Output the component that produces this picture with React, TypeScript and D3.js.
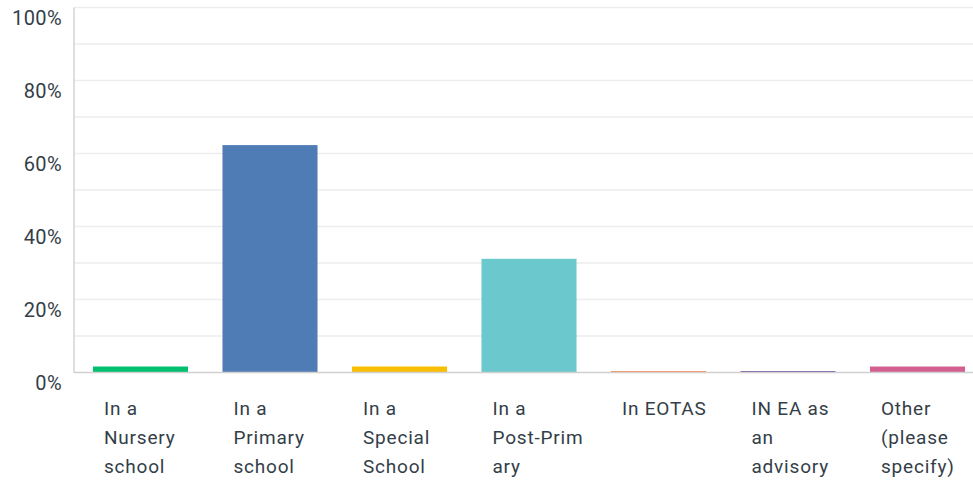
import React, { useEffect, useRef } from "react";
import * as d3 from "d3";

const categories = [
  "In a Nursery school",
  "In a Primary school",
  "In a Special School",
  "In a Post-Primary",
  "In EOTAS",
  "IN EA as an advisory",
  "Other (please specify)",
];
// wrapped tick labels, as shown under each bar
const tickLines = [
  ["In a", "Nursery", "school"],
  ["In a", "Primary", "school"],
  ["In a", "Special", "School"],
  ["In a", "Post-Prim", "ary"],
  ["In EOTAS"],
  ["IN EA as", "an", "advisory"],
  ["Other", "(please", "specify)"],
];
const percents = [1.64, 62.3, 1.64, 31.15, 0, 0, 1.64];
const colors = ["#00bf6f", "#507cb6", "#f9be00", "#6bc8cd", "#ff8b4f", "#7d5ba6", "#d25f90"];
const yTicks = [0, 20, 40, 60, 80, 100];
const gridTicks = [10, 20, 30, 40, 50, 60, 70, 80, 90, 100];

const width = 973;
const height = 483;
const textColor = "#333e48";

function App() {
  const svgRef = useRef(null);

  useEffect(() => {
    const svg = d3.select(svgRef.current);
    svg.selectAll("*").remove();

    const axisX = 74;
    const y = d3.scaleLinear().domain([0, 100]).range([372.5, 7.5]);
    const x = d3
      .scaleBand()
      .domain(categories)
      .range([75.75, 982.25])
      .paddingInner(0.266)
      .paddingOuter(0.133);

    // gridlines
    svg
      .append("g")
      .selectAll("line")
      .data(gridTicks)
      .join("line")
      .attr("x1", axisX)
      .attr("x2", width)
      .attr("y1", (d) => y(d))
      .attr("y2", (d) => y(d))
      .attr("stroke", "#ededed")
      .attr("stroke-width", 1.5);

    // y labels
    svg
      .append("g")
      .selectAll("text")
      .data(yTicks)
      .join("text")
      .attr("x", 62)
      .attr("y", (d) => y(d) + 17)
      .attr("text-anchor", "end")
      .attr("fill", textColor)
      .attr("font-family", "Roboto, 'Noto Sans', sans-serif")
      .attr("font-size", 20)
      .attr("letter-spacing", 0.4)
      .text((d) => `${d}%`);

    // bars
    svg
      .append("g")
      .selectAll("rect")
      .data(percents)
      .join("rect")
      .attr("x", (d, i) => x(categories[i]))
      .attr("width", x.bandwidth())
      .attr("y", (d) => Math.min(y(d), y(0) - 1.5))
      .attr("height", (d) => Math.max(y(0) - y(d), 1.5))
      .attr("fill", (d, i) => colors[i]);

    // axes lines
    svg
      .append("line")
      .attr("x1", axisX)
      .attr("x2", axisX)
      .attr("y1", y(100))
      .attr("y2", y(0))
      .attr("stroke", "#d4d4d4")
      .attr("stroke-width", 1.5);
    svg
      .append("line")
      .attr("x1", axisX)
      .attr("x2", width)
      .attr("y1", y(0))
      .attr("y2", y(0))
      .attr("stroke", "#d0d0d0")
      .attr("stroke-width", 1.5);

    // x labels
    const lab = svg
      .append("g")
      .selectAll("text")
      .data(tickLines)
      .join("text")
      .attr("x", (d, i) => x(categories[i]) + 11)
      .attr("y", 415)
      .attr("fill", textColor)
      .attr("font-family", "Roboto, 'Noto Sans', sans-serif")
      .attr("font-size", 19)
      .attr("letter-spacing", 0.8);
    lab
      .selectAll("tspan")
      .data((d) => d)
      .join("tspan")
      .attr("x", function () {
        return d3.select(this.parentNode).attr("x");
      })
      .attr("dy", (d, i) => (i === 0 ? 0 : 29))
      .text((d) => d);
  }, []);

  return (
    <svg
      ref={svgRef}
      width={width}
      height={height}
      style={{ position: "absolute", left: 0, top: 0, background: "#fff" }}
    />
  );
}

export default App;
